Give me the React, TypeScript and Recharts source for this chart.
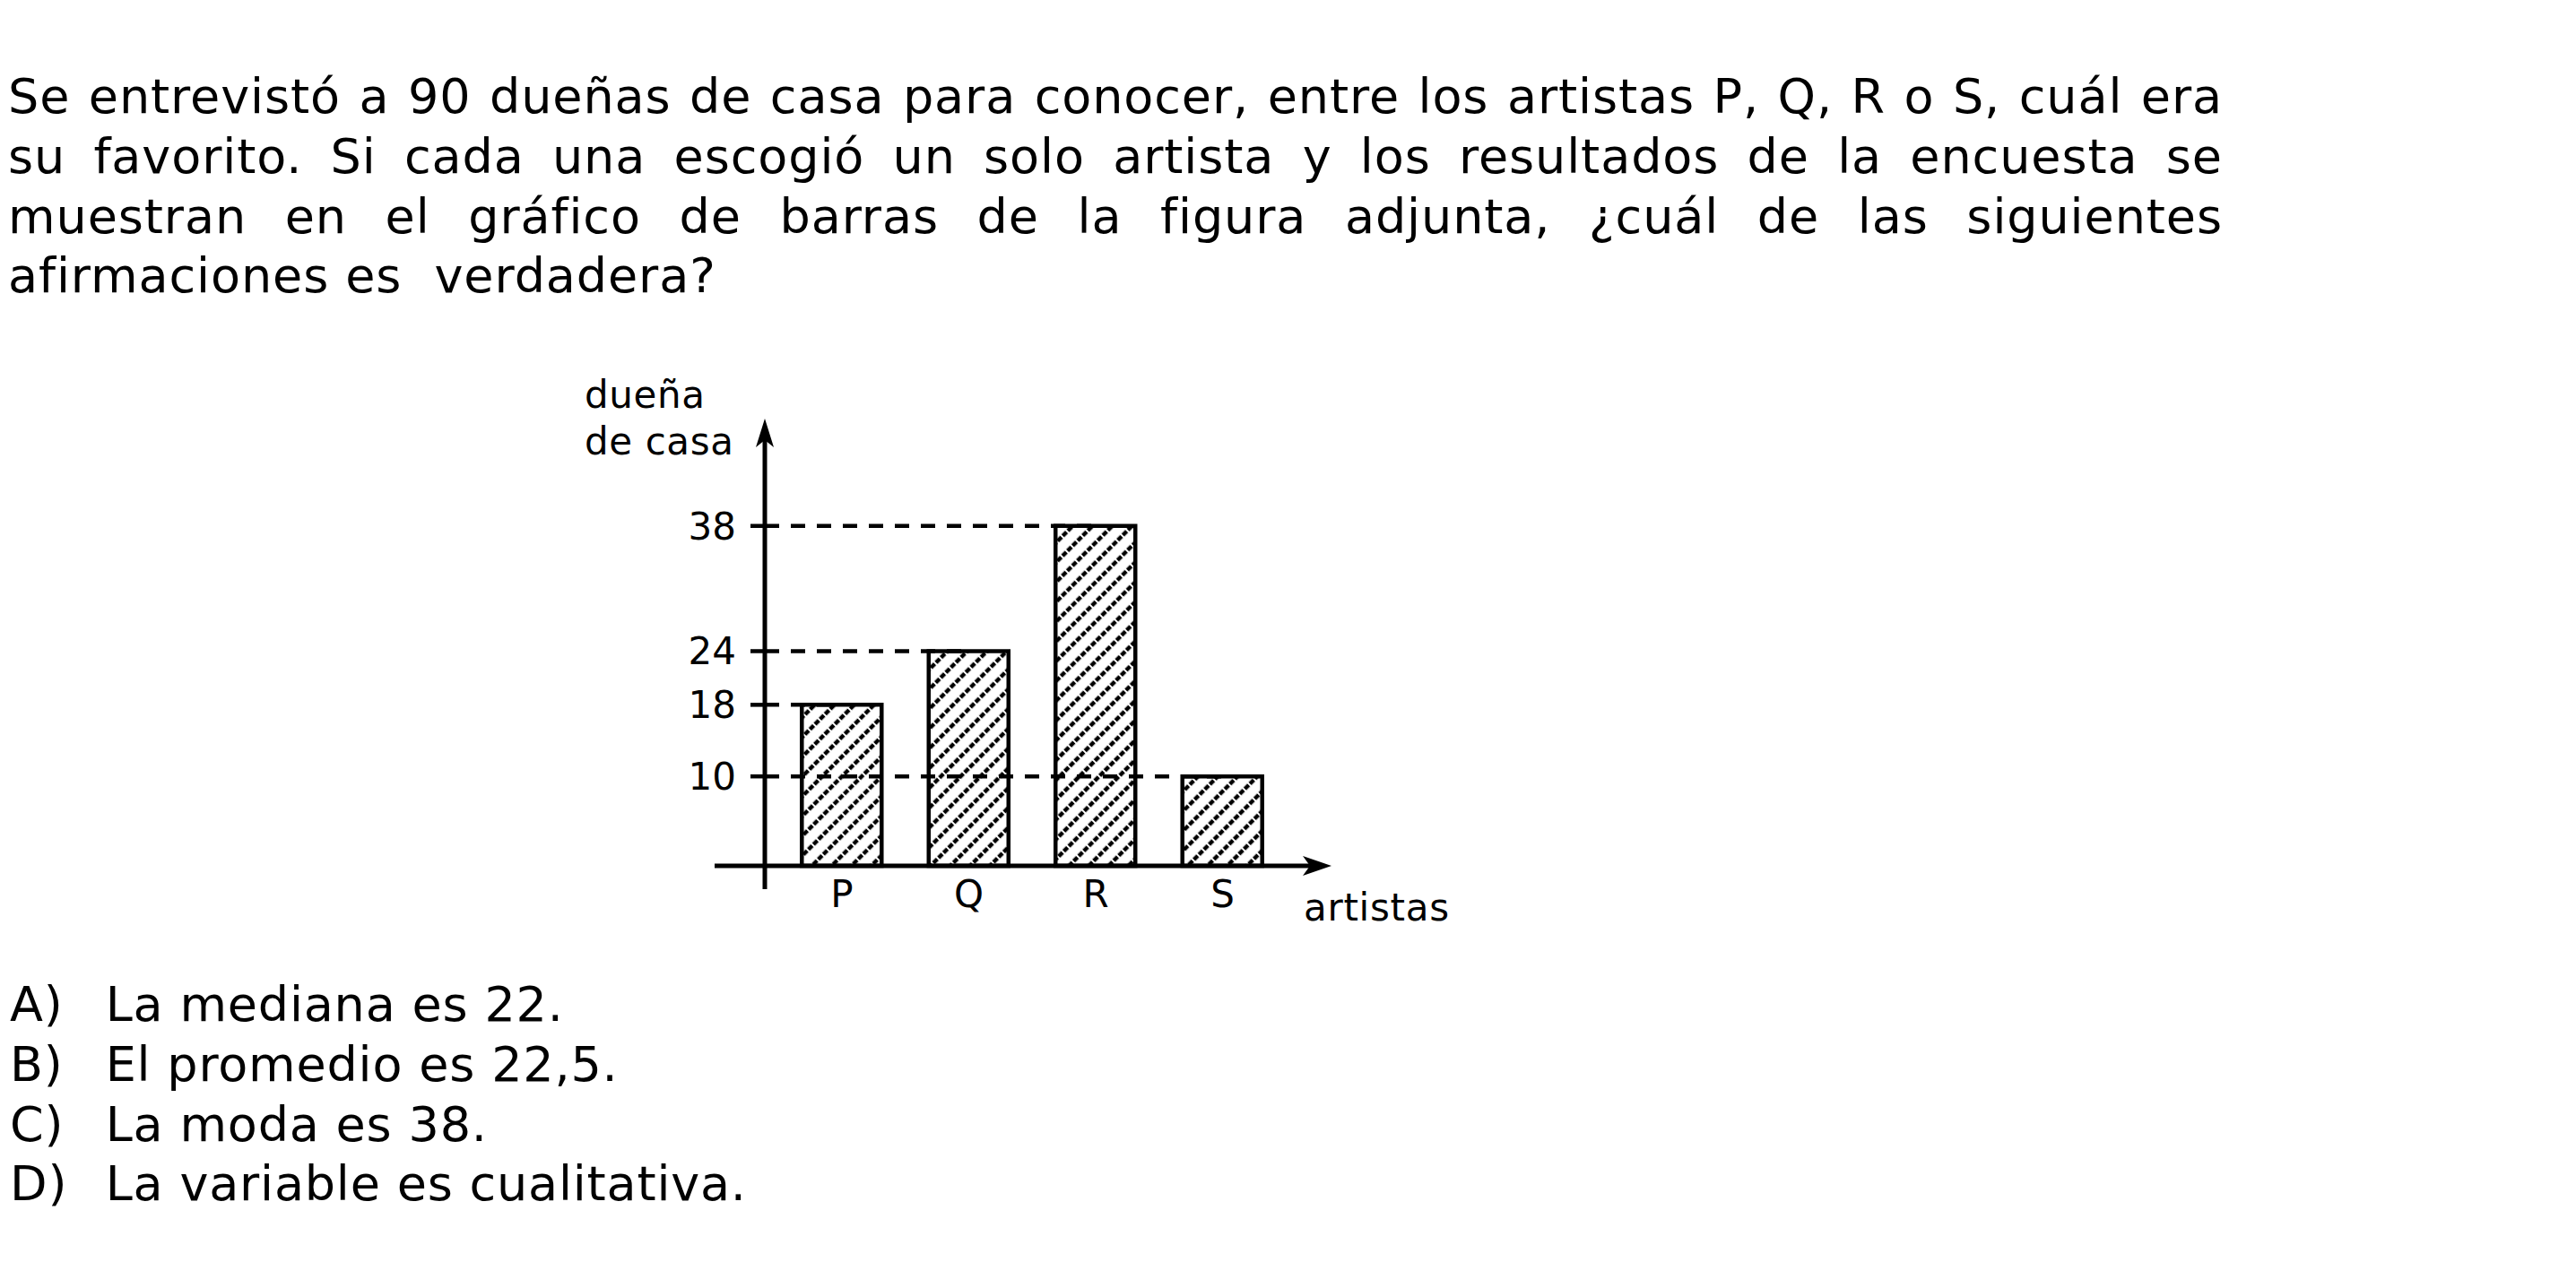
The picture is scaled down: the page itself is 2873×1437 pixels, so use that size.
import { BarChart, Bar, XAxis, YAxis, ReferenceLine, Label } from "recharts"

const categories = ["P", "Q", "R", "S"]
const counts = [18, 24, 38, 10]
const yTicks = [10, 18, 24, 38]
const yTitle = ["dueña", "de casa"]
const xTitle = "artistas"

const question = [
  "Se entrevistó a 90 dueñas de casa para conocer, entre los artistas P, Q, R o S, cuál era",
  "su favorito. Si cada una escogió un solo artista y los resultados de la encuesta se",
  "muestran en el gráfico de barras de la figura adjunta, ¿cuál de las siguientes",
  "afirmaciones es  verdadera?",
]
const optionLetters = ["A)", "B)", "C)", "D)"]
const optionTexts = ["La mediana es 22.", "El promedio es 22,5.", "La moda es 38.", "La variable es cualitativa."]

const rows = categories.map((artista, i) => ({ idx: i, artista, count: counts[i] }))
const xDomain: [number, number] = [-0.608, 3.859]

const font = "'DejaVu Sans', Verdana, sans-serif"

function YAxisDraw(props: any) {
  const vb = props.viewBox || {}
  const x = vb.x + vb.width
  const top = vb.y
  const bottom = vb.y + vb.height
  return (
    <g>
      <line x1={x} y1={top + 20} x2={x} y2={bottom + 26} stroke="#000" strokeWidth={5} />
      <path d={`M${x},${top} L${x - 10},${top + 32} L${x},${top + 24} L${x + 10},${top + 32} Z`} fill="#000" />
      {yTitle.map((t, i) => (
        <text
          key={t}
          x={x - 201}
          y={top - 12 + i * 52}
          fontSize={42}
          fontFamily={font}
          fill="#000"
          letterSpacing={0.6}
        >
          {t}
        </text>
      ))}
    </g>
  )
}

function XAxisDraw(props: any) {
  const vb = props.viewBox || {}
  const left = vb.x
  const right = vb.x + vb.width
  const y = vb.y
  return (
    <g>
      <line x1={left - 56} y1={y} x2={right - 20} y2={y} stroke="#000" strokeWidth={5} />
      <path d={`M${right},${y} L${right - 32},${y - 11} L${right - 24},${y} L${right - 32},${y + 11} Z`} fill="#000" />
      <text x={right - 31} y={y + 61} fontSize={42} fontFamily={font} fill="#000" letterSpacing={0.7}>
        {xTitle}
      </text>
    </g>
  )
}

function BarsChart() {
  return (
    <BarChart width={1100} height={680} data={rows} margin={{ top: 67, right: 215, bottom: 54, left: 153 }}>
      <defs>
        <pattern id="hatch" patternUnits="userSpaceOnUse" width={15.6} height={16} patternTransform="rotate(45)">
          <rect width={15.6} height={16} fill="#fff" />
          <line x1={7.8} y1={0} x2={7.8} y2={16} stroke="#000" strokeWidth={4.5} strokeDasharray="6 2" />
        </pattern>
      </defs>
      <XAxis
        type="number"
        dataKey="idx"
        domain={xDomain}
        ticks={[0, 1, 2, 3]}
        tickFormatter={(i: number) => categories[i]}
        axisLine={false}
        tickLine={false}
        tickSize={0}
        tickMargin={16}
        height={60}
        tick={{ fill: "#000", fontSize: 42, fontFamily: font }}
        label={<Label value={xTitle} content={XAxisDraw} />}
      />
      <YAxis
        type="number"
        domain={[0, 50]}
        ticks={yTicks}
        interval={0}
        width={100}
        axisLine={false}
        tickSize={16}
        tickMargin={16}
        tickLine={{ stroke: "#000", strokeWidth: 4.5 }}
        tick={{ fill: "#000", fontSize: 42, fontFamily: font }}
        label={<Label value={yTitle.join(" ")} content={YAxisDraw} />}
      />
      <Bar dataKey="count" barSize={89} fill="url(#hatch)" stroke="#000" strokeWidth={4.5} isAnimationActive={false} />
      {yTicks.map((v) => (
        <ReferenceLine
          key={v}
          ifOverflow="visible"
          segment={[
            { x: xDomain[0], y: v },
            { x: counts.indexOf(v), y: v },
          ]}
          stroke="#000"
          strokeWidth={4.5}
          strokeDasharray="16 13"
        />
      ))}
    </BarChart>
  )
}

export default function App() {
  return (
    <div
      style={{
        position: "absolute",
        left: 0,
        top: 0,
        width: 2873,
        height: 1437,
        overflow: "hidden",
        background: "#fff",
        fontFamily: font,
        color: "#000",
      }}
    >
      <div
        style={{
          position: "absolute",
          left: 9,
          top: 75,
          width: 2470,
          fontSize: 54,
          lineHeight: "66.8px",
          letterSpacing: 0.9,
        }}
      >
        {question.map((line, i) => (
          <div
            key={i}
            style={
              i < question.length - 1
                ? { textAlign: "justify", textAlignLast: "justify", whiteSpace: "nowrap" }
                : { whiteSpace: "pre" }
            }
          >
            {line}
          </div>
        ))}
      </div>
      <div style={{ position: "absolute", left: 600, top: 400 }}>
        <BarsChart />
      </div>
      <div
        style={{
          position: "absolute",
          left: 11,
          top: 1088,
          fontSize: 54,
          lineHeight: "66.8px",
          letterSpacing: 0.8,
        }}
      >
        {optionTexts.map((t, i) => (
          <div key={i} style={{ whiteSpace: "pre" }}>
            <span style={{ display: "inline-block", width: 106.7 }}>{optionLetters[i]}</span>
            {t}
          </div>
        ))}
      </div>
    </div>
  )
}
